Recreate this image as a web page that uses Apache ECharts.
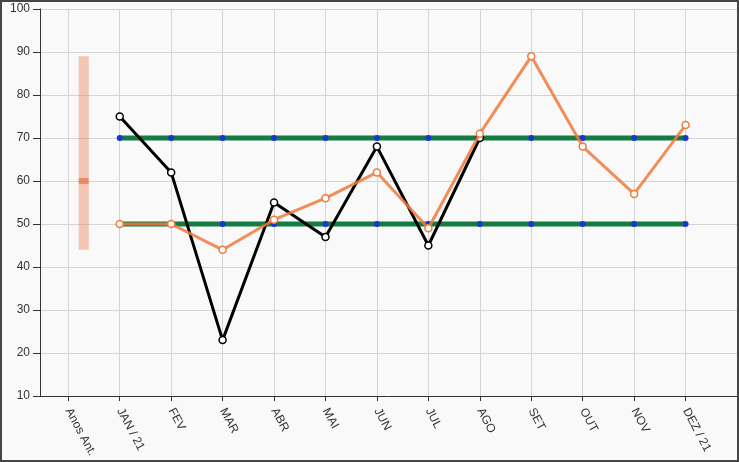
<!DOCTYPE html>
<html>
<head>
<meta charset="utf-8">
<script src="https://cdn.jsdelivr.net/npm/echarts@6/dist/echarts.min.js"></script>
<style>
  html, body { margin: 0; padding: 0; background: #f9f9f9; }
  #wrap { position: relative; width: 739px; height: 462px; }
  #chart { position: absolute; left: 0; top: 0; width: 739px; height: 462px; }
  #frame { position: absolute; left: 0; top: 0; width: 739px; height: 462px; box-sizing: border-box; border: 2px solid #454545; pointer-events: none; }
</style>
</head>
<body>
<div id="wrap"><div id="chart"></div><div id="frame"></div></div>
<script>
const categories = ['Anos Ant.', 'JAN / 21', 'FEV', 'MAR', 'ABR', 'MAI', 'JUN', 'JUL', 'AGO', 'SET', 'OUT', 'NOV', 'DEZ / 21'];
const realizado = [null, 75, 62, 23, 55, 47, 68, 45, 70, null, null, null, null];
const projetado = [null, 50, 50, 44, 51, 56, 62, 49, 71, 89, 68, 57, 73];
const limiteSup = [null, 70, 70, 70, 70, 70, 70, 70, 70, 70, 70, 70, 70];
const limiteInf = [null, 50, 50, 50, 50, 50, 50, 50, 50, 50, 50, 50, 50];
const anosHigh = [89];
const anosLow = [44];
const anosMid = [60];
const yTicks = [10, 20, 30, 40, 50, 60, 70, 80, 90, 100];

const idx = categories.map((c, i) => i);
const toXY = arr => arr.map((v, i) => [i, v]);
const boxData = anosHigh.map((h, i) => [i, h, anosLow[i], anosMid[i]]);

const chart = echarts.init(document.getElementById('chart'), null, { renderer: 'canvas' });
const font = '"Liberation Sans", Arial, sans-serif';
chart.setOption({
  animation: false,
  backgroundColor: '#f9f9f9',
  grid: { left: 40, right: 2, top: 9, bottom: 66, containLabel: false },
  xAxis: {
    type: 'value',
    min: -0.55,
    max: 13,
    axisLine: { show: true, onZero: false, lineStyle: { color: '#333', width: 1 } },
    axisTick: { show: true, length: 5, customValues: idx, lineStyle: { color: '#333' } },
    axisLabel: {
      customValues: idx,
      formatter: v => categories[Math.round(v)] || '',
      rotate: -62,
      margin: 13,
      color: '#333',
      fontSize: 12,
      fontFamily: font
    },
    splitLine: { show: true, lineStyle: { color: '#d4d4d4', width: 1 } }
  },
  yAxis: {
    type: 'value',
    min: yTicks[0],
    max: yTicks[yTicks.length - 1],
    interval: 10,
    axisLine: { show: true, onZero: false, lineStyle: { color: '#333', width: 1 } },
    axisTick: { show: true, length: 7, lineStyle: { color: '#333' } },
    axisLabel: { margin: 10, color: '#333', fontSize: 12, fontFamily: font },
    splitLine: { show: true, lineStyle: { color: '#d4d4d4', width: 1 } }
  },
  series: [
    {
      type: 'custom',
      z: 1,
      data: boxData,
      renderItem(params, api) {
        const x = api.value(0);
        const pHi = api.coord([x, api.value(1)]);
        const pLo = api.coord([x, api.value(2)]);
        const pMid = api.coord([x, api.value(3)]);
        const unit = api.size([1, 0])[0];
        const cx = pHi[0] + unit * 0.3;
        const w = 10;
        return {
          type: 'group',
          children: [
            { type: 'rect', shape: { x: cx - w / 2, y: pHi[1], width: w, height: pLo[1] - pHi[1] }, style: { fill: 'rgba(240,130,90,0.45)' } },
            { type: 'rect', shape: { x: cx - w / 2, y: pMid[1] - 3, width: w, height: 6 }, style: { fill: 'rgba(225,110,70,0.65)' } }
          ]
        };
      }
    },
    {
      type: 'line', z: 2, data: toXY(limiteSup),
      lineStyle: { color: '#137c42', width: 5 },
      symbol: 'circle', symbolSize: 6, itemStyle: { color: '#1a35d0', borderWidth: 0 }
    },
    {
      type: 'line', z: 2, data: toXY(limiteInf),
      lineStyle: { color: '#137c42', width: 5 },
      symbol: 'circle', symbolSize: 6, itemStyle: { color: '#1a35d0', borderWidth: 0 }
    },
    {
      type: 'line', z: 3, data: toXY(realizado),
      lineStyle: { color: '#000', width: 3 },
      symbol: 'circle', symbolSize: 7, showSymbol: true,
      itemStyle: { color: '#fff', borderColor: '#000', borderWidth: 1.5 }
    },
    {
      type: 'line', z: 4, data: toXY(projetado),
      lineStyle: { color: '#f07a3c', width: 3, opacity: 0.85 },
      symbol: 'circle', symbolSize: 7,
      itemStyle: { color: '#fff', borderColor: '#f07a3c', borderWidth: 1.5 }
    }
  ]
});
</script>
</body>
</html>
